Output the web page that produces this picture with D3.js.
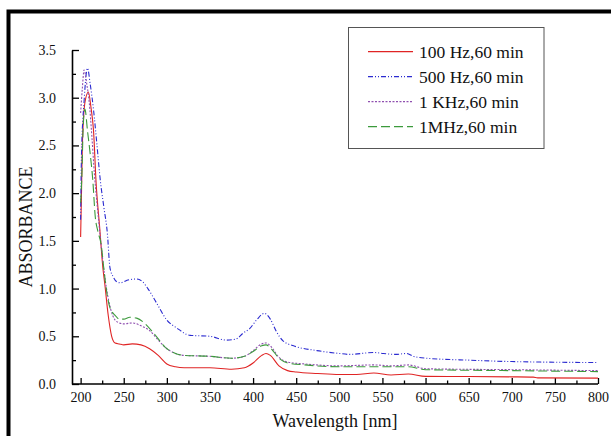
<!DOCTYPE html>
<html>
<head>
<meta charset="utf-8">
<script src="https://cdn.jsdelivr.net/npm/d3@7"></script>
<style>
  body { margin: 0; background: #fff; }
  svg { display: block; }
</style>
</head>
<body>
<script>
// series values (wavelength nm / absorbance)
var wl100 = [200, 201, 202, 205, 209, 212, 215, 218, 222, 226, 228, 232, 236, 240, 245, 250, 260, 270, 280, 290, 300, 310, 320, 350, 375, 390, 400, 410, 415, 420, 430, 440, 450, 475, 500, 520, 540, 560, 580, 600, 650, 700, 725, 730, 800];
var abs100 = [1.54, 2.0, 2.5, 2.95, 3.06, 2.9, 2.65, 2.1, 1.65, 1.2, 1.05, 0.72, 0.50, 0.43, 0.42, 0.41, 0.42, 0.41, 0.37, 0.30, 0.21, 0.18, 0.17, 0.17, 0.155, 0.17, 0.22, 0.30, 0.32, 0.30, 0.19, 0.14, 0.125, 0.11, 0.10, 0.10, 0.115, 0.095, 0.105, 0.08, 0.078, 0.075, 0.072, 0.064, 0.062];

var wl500 = [200, 201, 204, 208, 211, 215, 219, 223, 227, 231, 234, 238, 242, 246, 250, 255, 265, 272, 278, 288, 300, 311, 327, 350, 369, 380, 388, 396, 404, 413, 420, 427, 435, 447, 474, 500, 512, 540, 551, 565, 578, 586, 601, 650, 700, 800];
var abs500 = [1.72, 2.4, 2.96, 3.31, 3.15, 2.87, 2.5, 2.12, 1.85, 1.58, 1.22, 1.12, 1.07, 1.06, 1.07, 1.09, 1.10, 1.07, 1.0, 0.85, 0.67, 0.59, 0.51, 0.50, 0.46, 0.47, 0.53, 0.58, 0.67, 0.74, 0.68, 0.55, 0.45, 0.40, 0.35, 0.32, 0.31, 0.33, 0.32, 0.31, 0.32, 0.29, 0.27, 0.25, 0.235, 0.225];

var wl1k = [200, 202, 204, 207, 210, 213, 216, 220, 225, 230, 235, 240, 245, 250, 260, 270, 280, 290, 300, 310, 320, 350, 375, 390, 400, 410, 415, 420, 430, 440, 460, 500, 540, 560, 580, 600, 700, 800];
var abs1k = [2.84, 3.1, 3.29, 3.15, 2.95, 2.6, 2.2, 1.8, 1.35, 1.0, 0.78, 0.67, 0.64, 0.63, 0.64, 0.61, 0.56, 0.46, 0.37, 0.32, 0.30, 0.29, 0.27, 0.29, 0.35, 0.42, 0.43, 0.40, 0.28, 0.23, 0.21, 0.19, 0.20, 0.19, 0.20, 0.16, 0.15, 0.14];

var wl1m = [200, 201.5, 203, 205, 208, 211, 214, 217, 220, 224, 227, 230, 234, 240, 245, 250, 257, 265, 275, 285, 300, 310, 320, 350, 375, 390, 400, 410, 415, 420, 430, 440, 460, 500, 550, 580, 600, 700, 800];
var abs1m = [1.9, 2.2, 2.7, 2.88, 2.65, 2.42, 2.15, 1.75, 1.6, 1.45, 1.2, 0.98, 0.8, 0.72, 0.68, 0.68, 0.70, 0.69, 0.63, 0.53, 0.37, 0.32, 0.30, 0.29, 0.27, 0.29, 0.34, 0.40, 0.41, 0.38, 0.27, 0.22, 0.20, 0.18, 0.18, 0.18, 0.15, 0.14, 0.13];

var seriesNames = ["100 Hz,60 min", "500 Hz,60 min", "1 KHz,60 min", "1MHz,60 min"];
var xTicks = [200, 250, 300, 350, 400, 450, 500, 550, 600, 650, 700, 750, 800];
var yTicks = [0, 0.5, 1.0, 1.5, 2.0, 2.5, 3.0, 3.5];

var series = [
  {name: seriesNames[0], wl: wl100, ab: abs100, color: "#e02424", dash: null},
  {name: seriesNames[1], wl: wl500, ab: abs500, color: "#2b2bd0", dash: "5,2,1,2,1,2"},
  {name: seriesNames[2], wl: wl1k, ab: abs1k, color: "#9050b0", dash: "2,1.5"},
  {name: seriesNames[3], wl: wl1m, ab: abs1m, color: "#3c9a3c", dash: "9,4"}
];

var serif = "'Liberation Serif', 'Times New Roman', serif";
var width = 611, height = 436;
var plotLeft = 72, plotRight = 598, plotTop = 50, plotBottom = 384;

var svg = d3.select("body").append("svg")
    .attr("width", width)
    .attr("height", height);

// thick black frame on top and left
svg.append("path")
    .attr("d", "M8.5,436 V11.5 H611")
    .attr("fill", "none")
    .attr("stroke", "#000")
    .attr("stroke-width", 4);

var x = d3.scaleLinear().domain([190, 800]).range([plotLeft, plotRight]);
var y = d3.scaleLinear().domain([0, 3.5]).range([plotBottom, plotTop]);

var xAxis = d3.axisBottom(x).tickValues(xTicks).tickSizeInner(-6).tickSizeOuter(0).tickPadding(8)
    .tickFormat(d3.format("d"));
var yAxis = d3.axisLeft(y).tickValues(yTicks).tickSizeInner(-7).tickSizeOuter(0).tickPadding(16)
    .tickFormat(d3.format(".1f"));

var minorX = xTicks.slice(0, -1).map(function(d) { return d + 25; });
var minorY = yTicks.slice(0, -1).map(function(d) { return d + 0.25; });

var gx = svg.append("g").attr("transform", "translate(0," + plotBottom + ")").call(xAxis);
var gy = svg.append("g").attr("transform", "translate(" + plotLeft + ",0)").call(yAxis);

svg.append("g").attr("transform", "translate(0," + plotBottom + ")")
    .call(d3.axisBottom(x).tickValues(minorX).tickSizeInner(-3.5).tickSizeOuter(0).tickFormat(""))
    .select(".domain").remove();
svg.append("g").attr("transform", "translate(" + plotLeft + ",0)")
    .call(d3.axisLeft(y).tickValues(minorY).tickSizeInner(-4).tickSizeOuter(0).tickFormat(""))
    .select(".domain").remove();

svg.selectAll(".domain").attr("stroke-width", 1.6);
svg.selectAll(".tick line").attr("stroke-width", 1.3);
svg.selectAll("g").attr("font-family", serif);
gx.selectAll("text").style("font-family", serif).style("font-size", "14px").attr("fill", "#111");
gy.selectAll("text").style("font-family", serif).style("font-size", "14px").attr("fill", "#111");

// x axis domain should start at the y axis
gx.select(".domain").attr("d", "M" + plotLeft + ",0H" + plotRight);

var line = d3.line()
    .x(function(d) { return x(d[0]); })
    .y(function(d) { return y(d[1]); })
    .curve(d3.curveMonotoneX);

svg.selectAll("path.series")
    .data(series)
    .enter()
    .append("path")
    .attr("class", "series")
    .attr("fill", "none")
    .attr("stroke", function(s) { return s.color; })
    .attr("stroke-width", 1.1)
    .attr("stroke-dasharray", function(s) { return s.dash; })
    .attr("d", function(s) { return line(s.wl.map(function(w, i) { return [w, s.ab[i]]; })); });

// axis titles
svg.append("text")
    .attr("x", 335).attr("y", 427)
    .attr("text-anchor", "middle")
    .style("font-family", serif)
    .style("font-size", "18px")
    .attr("fill", "#111")
    .text("Wavelength [nm]");

svg.append("text")
    .attr("transform", "translate(32,227) rotate(-90)")
    .attr("text-anchor", "middle")
    .style("font-family", serif)
    .style("font-size", "18px")
    .attr("fill", "#111")
    .text("ABSORBANCE");

// legend
var legend = svg.append("g");
legend.append("rect")
    .attr("x", 348.5).attr("y", 27.5)
    .attr("width", 195.5).attr("height", 121)
    .attr("fill", "#fff")
    .attr("stroke", "#555")
    .attr("stroke-width", 1);

var rows = legend.selectAll("g.row")
    .data(series)
    .enter()
    .append("g")
    .attr("class", "row")
    .attr("transform", function(s, i) { return "translate(0," + (51.7 + i * 25) + ")"; });

rows.append("line")
    .attr("x1", 368).attr("x2", 413)
    .attr("stroke", function(s) { return s.color; })
    .attr("stroke-width", 1.2)
    .attr("stroke-dasharray", function(s) { return s.dash; });

rows.append("text")
    .attr("x", 419).attr("dy", "0.35em")
    .style("font-family", serif)
    .style("font-size", "17.5px")
    .attr("fill", "#111")
    .text(function(s) { return s.name; });
</script>
</body>
</html>
